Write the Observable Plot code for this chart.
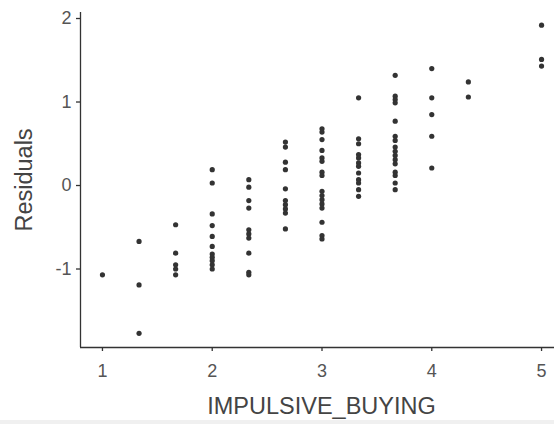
<!DOCTYPE html>
<html>
<head>
<meta charset="utf-8">
<script src="https://cdn.jsdelivr.net/npm/d3@7"></script>
<script src="https://cdn.jsdelivr.net/npm/@observablehq/plot@0.6"></script>
<style>
  html, body { margin: 0; padding: 0; background: #f0f0f0; }
  #chart { width: 554px; height: 420px; background: #fff; }
  svg { display: block; }
</style>
</head>
<body>
<div id="chart"></div>
<script>
const xLevels = [1, 4/3, 5/3, 2, 7/3, 8/3, 3, 10/3, 11/3, 4, 13/3, 5];
const residualsByLevel = [
  [-1.07],
  [-0.67, -1.19, -1.77],
  [-0.47, -0.81, -0.95, -1.0, -1.07],
  [0.19, 0.03, -0.34, -0.48, -0.61, -0.73, -0.82, -0.86, -0.9, -0.95, -1.0],
  [0.07, -0.02, -0.18, -0.27, -0.53, -0.58, -0.63, -0.81, -1.04, -1.07],
  [0.52, 0.46, 0.28, 0.19, -0.04, -0.18, -0.23, -0.28, -0.33, -0.52],
  [0.68, 0.64, 0.55, 0.42, 0.33, 0.29, 0.16, 0.12, -0.07, -0.12, -0.17, -0.22, -0.27, -0.44, -0.6, -0.64],
  [1.05, 0.56, 0.5, 0.37, 0.33, 0.27, 0.23, 0.15, 0.07, 0.03, -0.05, -0.13],
  [1.32, 1.07, 1.03, 0.99, 0.77, 0.59, 0.54, 0.46, 0.41, 0.36, 0.31, 0.26, 0.16, 0.12, 0.03, -0.05],
  [1.40, 1.05, 0.85, 0.59, 0.21],
  [1.24, 1.06],
  [1.92, 1.51, 1.43]
];
const xTicks = [1, 2, 3, 4, 5];
const yTicks = [-1, 0, 1, 2];
const xLabel = "IMPULSIVE_BUYING";
const yLabel = "Residuals";

const data = [];
xLevels.forEach((x, i) => residualsByLevel[i].forEach(r => data.push({x, r})));

const xDomain = [0.8, 5.118];
const yDomain = [-1.94, 2.072];
const fmt = d => String(d);

const chart = Plot.plot({
  width: 554,
  height: 420,
  marginLeft: 80,
  marginRight: 0,
  marginTop: 12,
  marginBottom: 73,
  style: {fontFamily: "'Liberation Sans', Arial, sans-serif", background: "#fff", color: "#333"},
  x: {domain: xDomain},
  y: {domain: yDomain},
  marks: [
    Plot.axisX({ticks: xTicks, tickFormat: fmt, tickSize: 4, tickPadding: 13, stroke: "#333", strokeWidth: 1.3, fill: "#555",
      label: null}),
    Plot.axisY({ticks: yTicks, tickFormat: fmt, tickSize: 4, tickPadding: 5, stroke: "#333", strokeWidth: 1.3, fill: "#555",
      label: null}),
    Plot.ruleX([xDomain[0]], {stroke: "#333", strokeWidth: 1.3}),
    Plot.ruleY([yDomain[0]], {stroke: "#333", strokeWidth: 1.3}),
    Plot.dot(data, {x: "x", y: "r", r: 2.6, fill: "#333", stroke: null}),
    Plot.text([xLabel], {frameAnchor: "bottom", lineAnchor: "middle", dy: 59, dx: 4, fill: "#444", textAnchor: "middle"}),
    Plot.text([yLabel], {frameAnchor: "left", lineAnchor: "middle", textAnchor: "middle", dx: -56, rotate: -90, fill: "#444"})
  ]
});
d3.select(chart).selectAll("text").each(function() {
  const t = this.textContent;
  const isTitle = t === xLabel || t === yLabel;
  d3.select(this).style("font-size", isTitle ? "23.5px" : "18px");
});
document.getElementById("chart").appendChild(chart);
</script>
</body>
</html>
